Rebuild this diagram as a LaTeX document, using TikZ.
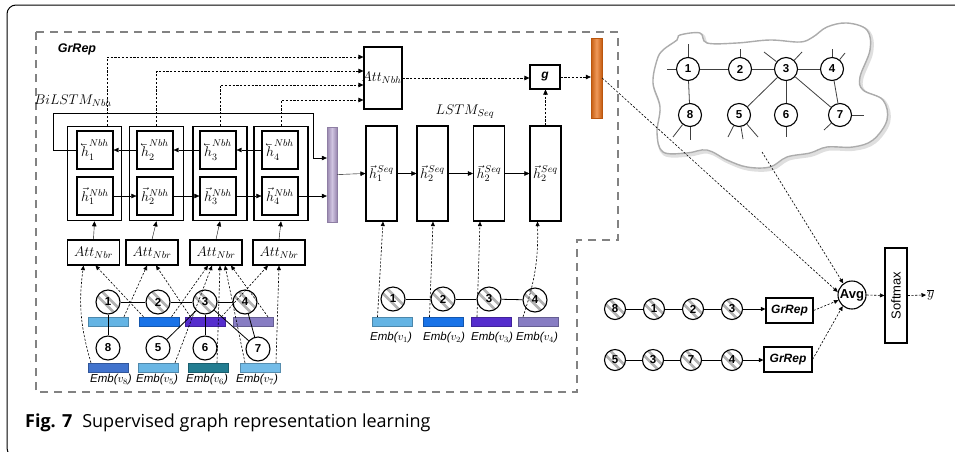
\RequirePackage{fix-cm}
\documentclass[tikz,border=0pt]{standalone}
\usepackage{fontspec}
\setsansfont{Liberation Sans}
\newfontfamily\capfont{Open Sans}
\usetikzlibrary{arrows.meta,calc}
\newcommand{\lvec}[1]{\reflectbox{$\vec{\reflectbox{$#1$}}$}}
\definecolor{dashgray}{RGB}{130,130,130}
\definecolor{cA}{RGB}{100,180,228}
\definecolor{cB}{RGB}{25,115,232}
\definecolor{cC}{RGB}{85,45,205}
\definecolor{cD}{RGB}{135,125,195}
\definecolor{cE}{RGB}{65,115,205}
\definecolor{cF}{RGB}{105,182,228}
\definecolor{cG}{RGB}{35,125,145}
\definecolor{cH}{RGB}{115,188,232}
\definecolor{pbarc}{RGB}{178,158,205}
\definecolor{obarc}{RGB}{232,108,18}
\begin{document}
\begin{tikzpicture}[x=1pt,y=-1pt,
  arr/.style={-{Triangle[length=5pt,width=4.5pt]}},
  sarr/.style={-{Triangle[length=4.5pt,width=4pt]}},
  dsh/.style={dash pattern=on 2.2pt off 1.6pt, line width=0.6pt},
  hb/.style={draw, line width=1.3pt, minimum width=36pt, minimum height=38pt, inner sep=0pt, font=\fontsize{14}{15}\selectfont},
  ob/.style={draw, line width=1.6pt, minimum width=54pt, minimum height=94pt, inner sep=0pt},
  sq/.style={draw, line width=1.1pt, minimum width=31pt, minimum height=95pt, inner sep=0pt, font=\fontsize{14}{15}\selectfont},
  attb/.style={draw, line width=1.1pt, minimum width=52pt, minimum height=25pt, inner sep=0pt, font=\fontsize{14}{15}\selectfont},
  cw/.style={circle, draw, line width=1.1pt, fill=white, minimum size=#1, inner sep=0pt, font=\sffamily\bfseries\fontsize{11.5}{11}\selectfont},
  cw/.default=24pt,
  ch/.style={cw=#1, path picture={\foreach \d in {-4.5,4.5}{\draw[gray!60,line width=2.6pt] ([xshift=\d pt]path picture bounding box.north west) -- ([xshift=\d pt]path picture bounding box.south east);}}},
  ch/.default=24pt,
  eb/.style={minimum width=40pt, minimum height=9pt, inner sep=0pt, draw=#1!75!black, fill=#1, line width=0.4pt},
  emb/.style={font=\sffamily\itshape\fontsize{11.5}{12}\selectfont, inner sep=0pt},
  gbox/.style={draw, line width=1.1pt, inner sep=0pt, font=\sffamily\bfseries\itshape\fontsize{12}{14}\selectfont},
  stub/.style={line width=0.8pt, black!75}
]
\useasboundingbox (0,0) rectangle (955,451);
% outer frame
\begin{scope}
\clip (0,0) rectangle (955,451);
\draw[line width=1pt, rounded corners=9pt] (7,5) rectangle (980,457);
\end{scope}
% GrRep dashed region
\draw[dashgray, line width=2.6pt, dash pattern=on 8pt off 6pt] (36,32) -- (618,32) -- (618,240) -- (577,240) -- (577,392) -- (36,392) -- cycle;
\node[font=\sffamily\bfseries\itshape\fontsize{12.5}{14}\selectfont] (grlab) at (77,49) {GrRep};
\node[font=\fontsize{14}{15}\selectfont] (bilab) at (73,101) {$BiLSTM_{Nbh}$};
\node[font=\fontsize{14}{15}\selectfont] (lslab) at (465,112) {$LSTM_{Seq}$};

% BiLSTM outer boxes
\node[ob] (ob1) at (94.5,173.5) {};
\node[ob] (ob2) at (156.5,173.5) {};
\node[ob] (ob3) at (220,173.5) {};
\node[ob] (ob4) at (281,173.5) {};
% inner boxes
\node[hb] (b1) at (95,150) {$\lvec{h}_1^{Nbh}$};
\node[hb] (b2) at (155,150) {$\lvec{h}_2^{Nbh}$};
\node[hb] (b3) at (218,150) {$\lvec{h}_3^{Nbh}$};
\node[hb] (b4) at (280,150) {$\lvec{h}_4^{Nbh}$};
\node[hb] (f1) at (95,196) {$\vec{h}_1^{Nbh}$};
\node[hb] (f2) at (155,196) {$\vec{h}_2^{Nbh}$};
\node[hb] (f3) at (218,196) {$\vec{h}_3^{Nbh}$};
\node[hb] (f4) at (280,196) {$\vec{h}_4^{Nbh}$};
% purple bar
\node[minimum width=10pt, minimum height=95pt, inner sep=0pt, left color=pbarc!85!black, right color=pbarc!85!black, middle color=pbarc!60!white, draw=pbarc!80!black, line width=0.3pt] (pbar) at (332,174.5) {};
\draw[arr] (b4.west) -- (b3.east);
\draw[arr] (b3.west) -- (b2.east);
\draw[arr] (b2.west) -- (b1.east);
\draw[arr] (f1.east) -- (f2.west);
\draw[arr] (f2.east) -- (f3.west);
\draw[arr] (f3.east) -- (f4.west);
\draw[arr] (f4.east) -- (f4.east -| pbar.west);
\coordinate (lpR) at (313,158);
\draw[arr] (b1.west) -| (53,113) -| (lpR) -- (lpR -| pbar.west);

% Att_Nbh
\node[draw, line width=1.1pt, minimum width=38pt, minimum height=62pt, inner sep=0pt] (attnbh) at (383,78) {};
\node[font=\fontsize{14}{15}\selectfont, inner sep=0pt] (attnbhl) at (381.5,78) {$Att_{Nbh}$};
\draw[dsh, arr] ([xshift=12.5pt]ob1.north) |- ([yshift=21pt]attnbh.west);
\draw[dsh, arr] (ob2.north) |- ([yshift=7pt]attnbh.west);
\draw[dsh, arr] (ob3.north) |- ([yshift=-7pt]attnbh.west);
\draw[dsh, arr] (ob4.north) |- ([yshift=-22pt]attnbh.west);
% g and orange bar
\node[gbox, minimum width=30pt, minimum height=24pt] (g) at (545,77) {g};
\node[minimum width=11pt, minimum height=80pt, inner sep=0pt, left color=obarc!85!black, right color=obarc!85!black, middle color=obarc!70!white, draw=obarc!80!black, line width=0.3pt] (obar) at (596.5,78) {};
\draw[dsh, arr] (attnbh.east) -- (attnbh.east -| g.west);
\draw[dsh, arr] (g.east) -- (g.east -| obar.west);

% LSTM_Seq boxes
\node[sq] (s1) at (381.5,173.5) {$\vec{h}_1^{Seq}$};
\node[sq] (s2) at (432.5,173.5) {$\vec{h}_2^{Seq}$};
\node[sq] (s3) at (489,173.5) {$\vec{h}_2^{Seq}$};
\node[sq] (s4) at (545.5,173.5) {$\vec{h}_2^{Seq}$};
\draw[arr] (pbar.east) -- (s1.west);
\draw[arr] (s1.east) -- (s2.west);
\draw[arr] (s2.east) -- (s3.west);
\draw[arr] (s3.east) -- (s4.west);
\draw[dsh, arr] (s4.north) -- (g.south -| s4.north);

% Att_Nbr boxes
\node[attb] (a1) at (93.5,252.5) {$Att_{Nbr}$};
\node[attb] (a2) at (152,252.5) {$Att_{Nbr}$};
\node[attb] (a3) at (216,252.5) {$Att_{Nbr}$};
\node[attb] (a4) at (279,252.5) {$Att_{Nbr}$};
\draw[arr] (a1.north) -- (ob1.south);
\draw[arr] (a2.north) -- (ob2.south);
\draw[arr] (a3.north) -- (ob3.south);
\draw[arr] (a4.north) -- (ob4.south);

% neighbourhood embeddings
\node[eb=cA] (e1) at (108,321.5) {};
\node[eb=cB] (e2) at (159.5,321.5) {};
\node[eb=cC] (e3) at (205.5,321.5) {};
\node[eb=cD] (e4) at (253,321.5) {};
\node[eb=cE] (e8) at (108,367.5) {};
\node[eb=cF] (e5) at (158,367.5) {};
\node[eb=cG] (e6) at (208,367.5) {};
\node[eb=cH] (e7) at (260,367.5) {};
\node[emb] (l8) at (111,380) {Emb($v_8$)};
\node[emb] (l5) at (157,380) {Emb($v_5$)};
\node[emb] (l6) at (207,380) {Emb($v_6$)};
\node[emb] (l7) at (257,380) {Emb($v_7$)};
% circles
\node[ch] (n1) at (108,302) {1};
\node[ch] (n2) at (158,302) {2};
\node[ch] (n3) at (205,302) {3};
\node[ch] (n4) at (245,302) {4};
\node[cw] (n8) at (108,348) {8};
\node[cw] (n5) at (158,348) {5};
\node[cw] (n6) at (205,348) {6};
\node[cw] (n7) at (258,349) {7};
\begin{scope}[line width=0.8pt]
\draw (n1) -- (n2); \draw (n2) -- (n3); \draw (n3) -- (n4);
\draw (n1) -- (n8); \draw (n3) -- (n5); \draw (n3) -- (n6);
\draw (n3) -- (n7); \draw (n4) -- (n7);
\end{scope}
% attention inputs
\draw[dsh, sarr] ([xshift=-17pt]e8.north) to[bend left=12] ([xshift=-10pt]a1.south);
\draw[dsh, sarr] ([xshift=-16pt]e2.north) -- ([xshift=2pt]a1.south);
\draw[dsh, sarr] ([xshift=16pt]e1.north) -- ([xshift=-5pt]a2.south);
\draw[dsh, sarr] ([xshift=-15pt]e3.north) -- ([xshift=4pt]a2.south);
\draw[dsh, sarr] ([xshift=12pt]e2.north) -- ([xshift=-8pt]a3.south);
\draw[dsh, sarr] ([xshift=17pt]e5.north) -- ([xshift=-4pt]a3.south);
\draw[dsh, sarr] ([xshift=9pt]e6.north) -- ([xshift=4pt]a3.south);
\draw[dsh, sarr] ([xshift=-15pt]e7.north) -- ([xshift=9pt]a3.south);
\draw[dsh, sarr] ([xshift=15pt]e4.north) -- ([xshift=15pt]a3.south);
\draw[dsh, sarr] ([xshift=16pt]e3.north) -- ([xshift=-11pt]a4.south);
\draw[dsh, sarr] ([xshift=16pt]e7.north) -- ([xshift=0pt]a4.south);

% sequence embeddings
\node[eb=cA] (q1) at (392.5,321.5) {};
\node[eb=cB] (q2) at (443.5,321.5) {};
\node[eb=cC] (q3) at (491,321.5) {};
\node[eb=cD] (q4) at (538,321.5) {};
\node[emb] (m1) at (391,337.5) {Emb($v_1$)};
\node[emb] (m2) at (444,337.5) {Emb($v_2$)};
\node[emb] (m3) at (492,337.5) {Emb($v_3$)};
\node[emb] (m4) at (537,337.5) {Emb($v_4$)};
\node[ch] (k1) at (393,299) {1};
\node[ch] (k2) at (443,299) {2};
\node[ch] (k3) at (489,299) {3};
\node[ch] (k4) at (535,300) {4};
\draw[line width=0.8pt] (k1) -- (k2);
\draw[line width=0.8pt] (k2) -- (k3);
\draw[line width=0.8pt] (k3) -- (k4);
\draw[dsh, sarr] ([xshift=-15pt]q1.north) -- ([xshift=1.5pt]s1.south);
\draw[dsh, sarr] ([xshift=-14pt]q2.north) -- ([xshift=0.5pt]s2.south);
\draw[dsh, sarr] ([xshift=-14pt]q3.north) -- ([xshift=-9pt]s3.south);
\draw[dsh, sarr] ([xshift=-15pt]q4.north) to[bend right=10] ([xshift=-8pt]s4.south);

% cloud graph
\draw[gray!25, line width=3.5pt, shift={(1.5,2)}] plot[smooth cycle, tension=0.6] coordinates {(680,35) (700,33) (707,43) (737,43) (770,40) (800,42) (813,37) (827,27) (847,23) (867,30) (870,50) (860,77) (863,90) (883,100) (887,120) (873,140) (853,147) (827,147) (810,153) (787,157) (770,167) (747,167) (727,160) (707,150) (687,153) (663,152) (657,133) (660,107) (653,83) (657,60) (663,50) (677,40)};
\draw[gray!65, line width=1.4pt, fill=white] plot[smooth cycle, tension=0.6] coordinates {(680,35) (700,33) (707,43) (737,43) (770,40) (800,42) (813,37) (827,27) (847,23) (867,30) (870,50) (860,77) (863,90) (883,100) (887,120) (873,140) (853,147) (827,147) (810,153) (787,157) (770,167) (747,167) (727,160) (707,150) (687,153) (663,152) (657,133) (660,107) (653,83) (657,60) (663,50) (677,40)};
\node[cw=23pt] (g1) at (688,69) {1};
\node[cw=23pt] (g2) at (740,69) {2};
\node[cw=23pt] (g3) at (786,69) {3};
\node[cw=23pt] (g4) at (832,69) {4};
\node[cw=23pt] (g8) at (690,115) {8};
\node[cw=23pt] (g5) at (739,115) {5};
\node[cw=23pt] (g6) at (786,115) {6};
\node[cw=23pt] (g7) at (840,115) {7};
\draw[stub] (g1) -- (g2); \draw[stub] (g2) -- (g3); \draw[stub] (g3) -- (g4);
\draw[stub] (g1) -- (g8); \draw[stub] (g3) -- (g5); \draw[stub] (g3) -- (g6);
\draw[stub] (g3) -- (g7); \draw[stub] (g4) -- (g7);
\draw[stub] (g1) -- ++(0,-25); \draw[stub] (g1) -- ++(-21,0);
\draw[stub] (g2) -- ++(0,-20);
\draw[stub] (g3) -- ++(-22,-17); \draw[stub] (g3) -- ++(16,-17);
\draw[stub] (g4) -- ++(0,-20); \draw[stub] (g4) -- ++(13,-16);
\draw[stub] (g8) -- ++(0,25); \draw[stub] (g8) -- ++(-17,22);
\draw[stub] (g5) -- ++(-11,22); \draw[stub] (g5) -- ++(4,24); \draw[stub] (g5) -- ++(19,22);
\draw[stub] (g6) -- ++(0,22);
\draw[stub] (g7) -- ++(24,0); \draw[stub] (g7) -- ++(-16,15);
\coordinate (cpt) at (762,152);

% bottom-right sequences
\node[ch=21pt] (r1) at (615,309) {8};
\node[ch=21pt] (r2) at (654,309) {1};
\node[ch=21pt] (r3) at (693,309) {2};
\node[ch=21pt] (r4) at (732,309) {3};
\node[gbox, minimum width=47pt, minimum height=25pt] (gr1) at (789.5,310.5) {GrRep};
\node[ch=21pt] (t1) at (615,360) {5};
\node[ch=21pt] (t2) at (653,360) {3};
\node[ch=21pt] (t3) at (691,360) {7};
\node[ch=21pt] (t4) at (732,360) {4};
\node[gbox, minimum width=48pt, minimum height=25pt] (gr2) at (788,359.5) {GrRep};
\draw[line width=0.8pt] (r1) -- (r2); \draw[line width=0.8pt] (r2) -- (r3); \draw[line width=0.8pt] (r3) -- (r4);
\draw[line width=0.8pt, sarr] (r4) -- (gr1.west |- r4);
\draw[line width=0.8pt] (t1) -- (t2); \draw[line width=0.8pt] (t2) -- (t3); \draw[line width=0.8pt] (t3) -- (t4);
\draw[line width=0.8pt, sarr] (t4) -- (gr2.west |- t4);

% Avg, softmax
\node[circle, draw, line width=1.1pt, minimum size=28pt, inner sep=0pt, font=\sffamily\bfseries\fontsize{13}{14}\selectfont] (avg) at (852,295) {Avg};
\node[draw, line width=1.1pt, minimum width=22pt, minimum height=95pt, inner sep=0pt] (smax) at (896,295.5) {};
\node[rotate=90, font=\sffamily\fontsize{13}{14}\selectfont, inner sep=0pt] (smaxl) at (smax) {Softmax};
\node[font=\fontsize{14}{15}\selectfont, inner sep=1pt, anchor=west] (ybar) at (926,295) {$\overline{y}$};
\draw[dsh, sarr] (obar.east) -- (avg.168);
\draw[dsh, sarr] (cpt) -- (avg.127);
\draw[dsh, sarr] (gr1.east) -- (avg.201);
\draw[dsh, sarr] (gr2.east) -- (avg.230);
\draw[dsh, sarr] (avg.east) -- (smax.west);
\draw[dsh, sarr] (smax.east) -- (ybar.west);

% caption
\node[anchor=west, inner sep=0pt, font=\capfont\fontsize{18}{22}\selectfont] (cap) at (25,423) {\textbf{Fig. 7}\hspace{0.55em}Supervised graph representation learning};
\end{tikzpicture}
\end{document}
